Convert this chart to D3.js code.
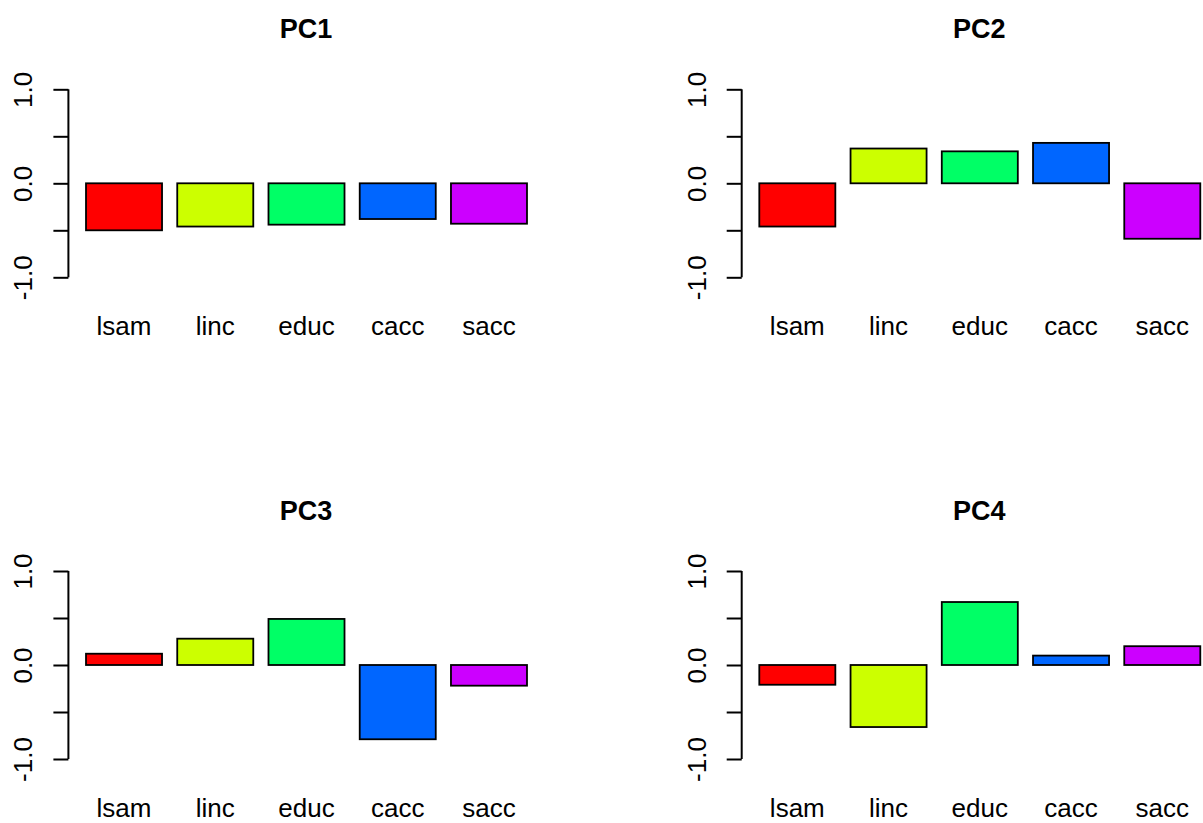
<!DOCTYPE html>
<html>
<head>
<meta charset="utf-8">
<script src="https://cdn.jsdelivr.net/npm/d3@7"></script>
<style>
  html, body { margin: 0; padding: 0; background: #fff; }
  svg { display: block; }
  text { font-family: "Liberation Sans", Arial, sans-serif; fill: #000; }
</style>
</head>
<body>
<svg id="chart" width="1203" height="823"></svg>
<script>
const categories = ["lsam", "linc", "educ", "cacc", "sacc"];
const barColors = ["#FF0000", "#CCFF00", "#00FF66", "#0066FF", "#CC00FF"];
const panelTitles = ["PC1", "PC2", "PC3", "PC4"];
const pc1 = [-0.50, -0.46, -0.44, -0.38, -0.43];
const pc2 = [-0.46, 0.37, 0.34, 0.43, -0.59];
const pc3 = [0.12, 0.28, 0.49, -0.79, -0.22];
const pc4 = [-0.21, -0.66, 0.67, 0.10, 0.20];
const seriesValues = [pc1, pc2, pc3, pc4];
const yTickValues = [-1, -0.5, 0, 0.5, 1];
const yTickLabels = ["-1.0", "", "0.0", "", "1.0"];

const svg = d3.select("#chart");

// Panel geometry (pixels)
const colOffset = [0, 673.3];
const rowOffset = [0, 481.7];
const plotLeft = 68.4, plotRight = 543.7;
const zeroY = 183.3, unitPx = 94;

const x = d3.scaleBand()
  .domain(categories)
  .range([78.4, 534.6])
  .paddingInner(1 / 6)
  .paddingOuter(1 / 12);

const y = d3.scaleLinear()
  .domain([-1.08, 1.08])
  .range([zeroY + 1.08 * unitPx, zeroY - 1.08 * unitPx]);

seriesValues.forEach((vals, i) => {
  const col = i % 2, row = Math.floor(i / 2);
  const g = svg.append("g")
    .attr("transform", `translate(${colOffset[col]},${rowOffset[row]})`);

  // Title
  g.append("text")
    .attr("x", (plotLeft + plotRight) / 2)
    .attr("y", 38.3)
    .attr("text-anchor", "middle")
    .style("font-size", "27px")
    .style("font-weight", "bold")
    .text(panelTitles[i]);

  // Bars
  g.selectAll("rect.bar")
    .data(vals)
    .join("rect")
    .attr("class", "bar")
    .attr("x", (d, j) => x(categories[j]))
    .attr("width", x.bandwidth())
    .attr("y", d => y(Math.max(0, d)))
    .attr("height", d => Math.abs(y(d) - y(0)))
    .attr("fill", (d, j) => barColors[j])
    .attr("stroke", "#000")
    .attr("stroke-width", 1.8);

  // Category labels
  g.selectAll("text.cat")
    .data(categories)
    .join("text")
    .attr("class", "cat")
    .attr("x", d => x(d) + x.bandwidth() / 2)
    .attr("y", 335)
    .attr("text-anchor", "middle")
    .style("font-size", "26px")
    .text(d => d);

  // Y axis
  const axis = d3.axisLeft(y)
    .tickValues(yTickValues)
    .tickSize(15)
    .tickSizeOuter(0)
    .tickFormat((d, k) => yTickLabels[k]);
  const ag = g.append("g")
    .attr("transform", `translate(${plotLeft},0)`)
    .call(axis);
  ag.select(".domain").remove();
  ag.selectAll(".tick line").attr("stroke", "#000").attr("stroke-width", 2);
  ag.selectAll(".tick text")
    .attr("transform", "rotate(-90)")
    .attr("x", 0)
    .attr("y", -36)
    .attr("dy", null)
    .attr("text-anchor", "middle")
    .attr("font-family", null)
    .attr("font-size", null)
    .style("font-size", "26px");
  ag.append("line")
    .attr("x1", 0).attr("x2", 0)
    .attr("y1", y(-1)).attr("y2", y(1))
    .attr("stroke", "#000")
    .attr("stroke-width", 2);
});
</script>
</body>
</html>
